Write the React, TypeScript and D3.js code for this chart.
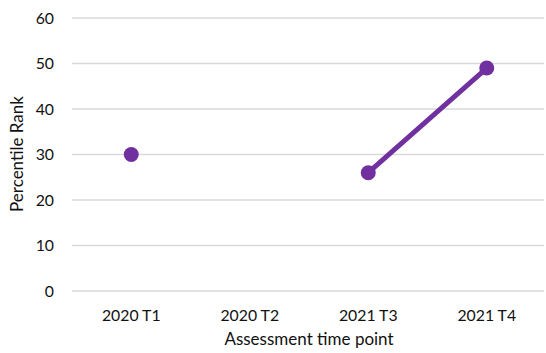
import React from "react";
import * as d3 from "d3";

const categories = ["2020 T1", "2020 T2", "2021 T3", "2021 T4"];
const values: (number | null)[] = [30, null, 26, 49];
const yTicks = [0, 10, 20, 30, 40, 50, 60];

const W = 546, H = 353;
const M = { left: 72, right: 0, top: 18, bottom: 62 };
const FONT = "Lato, 'Open Sans', sans-serif";
const PURPLE = "#7030A0";

export default function App() {
  const x = d3.scaleBand<string>().domain(categories).range([M.left, W - M.right]).padding(0);
  const y = d3.scaleLinear().domain([0, 60]).range([H - M.bottom, M.top]);
  const pts = categories.map((c, i) => ({ c, v: values[i] }));
  const line = d3.line<{ c: string; v: number | null }>()
    .defined(d => d.v !== null)
    .x(d => (x(d.c) as number) + x.bandwidth() / 2)
    .y(d => y(d.v as number));
  return (
    <svg width={W} height={H} style={{ position: "absolute", left: 0, top: 0, background: "#fff" }}>
      {yTicks.map(t => (
        <g key={t}>
          <line x1={M.left} x2={W - M.right - 2} y1={y(t)} y2={y(t)} stroke="#d9d9d9" strokeWidth={1.5} />
          <text x={54} y={y(t)} dy="0.35em" textAnchor="end" fontFamily={FONT} fontSize={15.8} fill="#111">{t}</text>
        </g>
      ))}
      {categories.map(c => (
        <text key={c} x={(x(c) as number) + x.bandwidth() / 2} y={321} textAnchor="middle" fontFamily={FONT} fontSize={15.8} fill="#111">{c}</text>
      ))}
      <text x={309} y={345} textAnchor="middle" fontFamily={FONT} fontSize={17} fill="#111">Assessment time point</text>
      <text transform={`translate(23,${154}) rotate(-90)`} textAnchor="middle" fontFamily={FONT} fontSize={17} fill="#111">Percentile Rank</text>
      <path d={line(pts) || ""} fill="none" stroke={PURPLE} strokeWidth={5} strokeLinecap="round" />
      {pts.filter(d => d.v !== null).map(d => (
        <circle key={d.c} cx={(x(d.c) as number) + x.bandwidth() / 2} cy={y(d.v as number)} r={7.5} fill={PURPLE} />
      ))}
    </svg>
  );
}
